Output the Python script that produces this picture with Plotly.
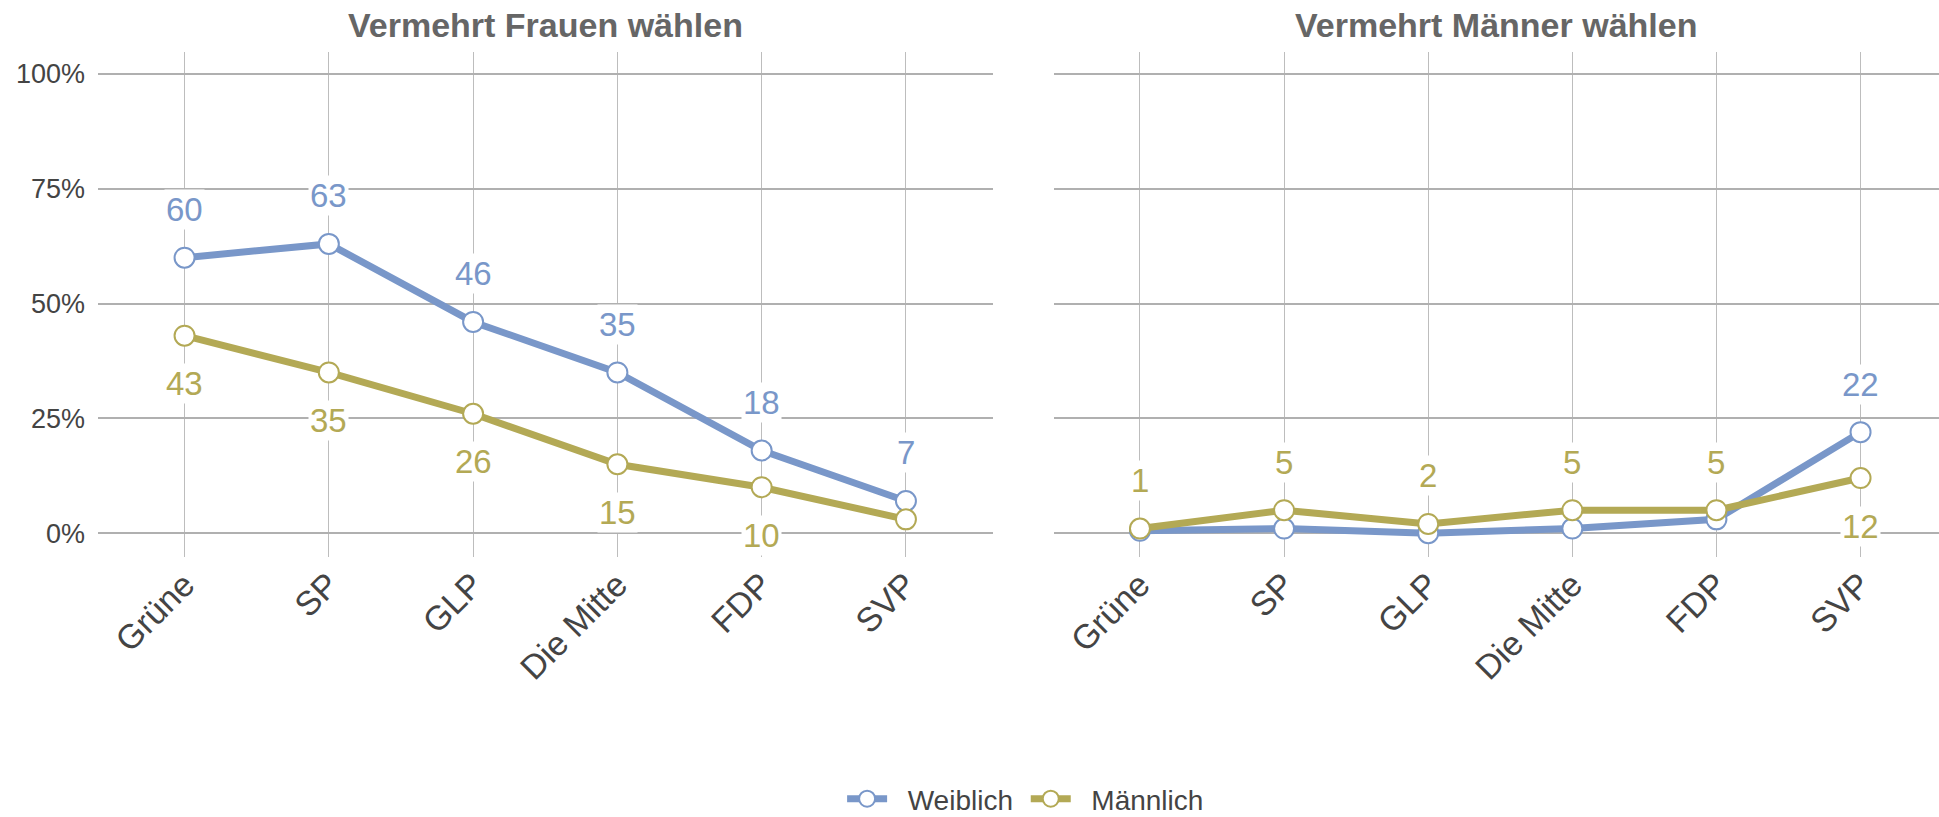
import plotly.graph_objects as go

parties = ["Grüne", "SP", "GLP", "Die Mitte", "FDP", "SVP"]
series_names = ["Weiblich", "Männlich"]

# Panel 1: Vermehrt Frauen wählen
frauen_weiblich = [60, 63, 46, 35, 18, 7]
frauen_maennlich = [43, 35, 26, 15, 10, 3]
# Panel 2: Vermehrt Männer wählen
maenner_weiblich = [0.5, 1, 0, 1, 3, 22]
maenner_maennlich = [1, 5, 2, 5, 5, 12]

# which labels are shown (and where): +1 above, -1 below, 0 hidden
frauen_weiblich_lbl = [1, 1, 1, 1, 1, 1]
frauen_maennlich_lbl = [-1, -1, -1, -1, -1, 0]
maenner_weiblich_lbl = [0, 0, 0, 0, 0, 1]
maenner_maennlich_lbl = [1, 1, 1, 1, 1, -1]

panel_titles = ["Vermehrt Frauen wählen", "Vermehrt Männer wählen"]
y_ticks = [0, 25, 50, 75, 100]
y_ticklabels = ["0%", "25%", "50%", "75%", "100%"]

BLUE = "#7997c9"
OLIVE = "#b3a955"
FONT = "Liberation Sans, Arial, sans-serif"
TXT = "#444444"
PAD = "\u00a0\u00a0"

fig = go.Figure()

panels = [
    ("x", "y", frauen_weiblich, frauen_maennlich, frauen_weiblich_lbl, frauen_maennlich_lbl),
    ("x2", "y2", maenner_weiblich, maenner_maennlich, maenner_weiblich_lbl, maenner_maennlich_lbl),
]

annotations = []
for i, (xa, ya, w, m, wl, ml) in enumerate(panels):
    for name, vals, color, lbls in [(series_names[0], w, BLUE, wl), (series_names[1], m, OLIVE, ml)]:
        fig.add_trace(go.Scatter(
            x=list(range(len(parties))), y=vals, xaxis=xa, yaxis=ya,
            mode="lines+markers", name=PAD + name + "\u00a0", legendgroup=name, showlegend=(i == 0),
            line=dict(color=color, width=7),
            marker=dict(symbol="circle", size=20, color="white", line=dict(color=color, width=2)),
            hoverinfo="skip",
        ))
        for j, (v, pos) in enumerate(zip(vals, lbls)):
            if pos == 0:
                continue
            annotations.append(dict(
                x=j, y=v, xref=xa, yref=ya, text=str(round(v)), showarrow=False,
                yshift=48 * pos, bgcolor="white", borderpad=1,
                font=dict(family=FONT, size=33, color=color),
            ))

dom1 = [98 / 1939, 992.5 / 1939]
dom2 = [1053.5 / 1939, 1.0]

axis_common = dict(
    tickmode="array", tickvals=list(range(len(parties))), ticktext=parties,
    tickangle=-45, showgrid=True, gridcolor="#bdbdbd", gridwidth=1,
    zeroline=False, showline=False, ticks="", automargin=False,
    tickfont=dict(family=FONT, size=34, color=TXT),
)
fig.update_layout(
    xaxis=dict(domain=dom1, range=[-0.6, 5.6], **axis_common),
    xaxis2=dict(domain=dom2, range=[-0.6, (1939 - 1139.5) / 144.2], anchor="y2", **axis_common),
    yaxis=dict(range=[-5.2, 104.8], tickvals=y_ticks, ticktext=y_ticklabels, automargin=False,
               showgrid=True, gridcolor="#b0b0b0", gridwidth=1.5, zeroline=False,
               tickfont=dict(family=FONT, size=27, color=TXT), ticks="", ticklabelstandoff=12),
    yaxis2=dict(range=[-5.2, 104.8], tickvals=y_ticks, showticklabels=False, anchor="x2",
                showgrid=True, gridcolor="#b0b0b0", gridwidth=1.5, zeroline=False, automargin=False),
)

for k, dom in enumerate([dom1, dom2]):
    annotations.append(dict(x=(dom[0] + dom[1]) / 2, y=1, xref="paper", yref="paper",
                            xanchor="center", yanchor="middle", yshift=27,
                            text=f"<b>{panel_titles[k]}</b>", showarrow=False,
                            font=dict(family=FONT, size=34, color="#666666")))

fig.update_layout(
    width=1939, height=817,
    margin=dict(l=0, r=0, t=52, b=260, autoexpand=False),
    plot_bgcolor="white", paper_bgcolor="white",
    annotations=annotations,
    legend=dict(orientation="h", x=0.531, xanchor="center", xref="container",
                y=1 - 799 / 817, yanchor="middle", yref="container",
                font=dict(family=FONT, size=28, color=TXT), itemwidth=40,
                traceorder="normal"),
    hovermode=False,
)

fig.write_html("out.html", config={"displayModeBar": False},
               post_script="document.body.style.margin='0';document.body.style.overflow='hidden';")
